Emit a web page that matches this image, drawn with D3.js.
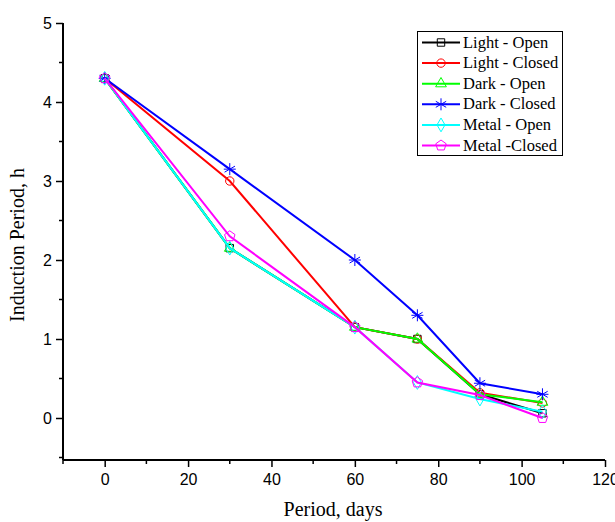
<!DOCTYPE html>
<html lang="en">
<head>
  <meta charset="UTF-8" />
  <title>Induction Period</title>
  <style>
    body { margin: 0; background: #fff; }
    .tick text { font: 16px Arial, "Liberation Sans", sans-serif; fill: #000; }
    .axis path, .axis line { stroke: #000; }
    .title { font: 20px "Times New Roman", "Liberation Serif", serif; fill: #000; }
    .legend text { font: 16.5px "Times New Roman", "Liberation Serif", serif; fill: #000; }
  </style>
  <script src="https://d3js.org/d3.v7.min.js"></script>
</head>
<body>
  <div id="chart"></div>
  <script type="text/javascript">
    const days = [0, 30, 60, 75, 90, 105];
    const lightOpen   = [4.3, 2.15, 1.15, 1.0, 0.3, 0.06];
    const lightClosed = [4.3, 3.0, 1.15, 1.0, 0.32, 0.19];
    const darkOpen    = [4.3, 2.15, 1.15, 1.0, 0.3, 0.2];
    const darkClosed  = [4.3, 3.15, 2.0, 1.3, 0.44, 0.3];
    const metalOpen   = [4.3, 2.15, 1.15, 0.45, 0.24, 0.08];
    const metalClosed = [4.3, 2.3, 1.15, 0.45, 0.29, 0.0];
    const seriesNames = ["Light - Open", "Light - Closed", "Dark - Open", "Dark - Closed", "Metal - Open", "Metal -Closed"];
    const xTicks = [0, 20, 40, 60, 80, 100, 120];
    const yTicks = [0, 1, 2, 3, 4, 5];

    const series = [
      { name: seriesNames[0], values: lightOpen,   color: "#000000", symbol: d3.symbolSquare },
      { name: seriesNames[1], values: lightClosed, color: "#ff0000", symbol: d3.symbolCircle },
      { name: seriesNames[2], values: darkOpen,    color: "#00ff00", symbol: d3.symbolTriangle },
      { name: seriesNames[3], values: darkClosed,  color: "#0000ff", symbol: "star" },
      { name: seriesNames[4], values: metalOpen,   color: "#00ffff", symbol: d3.symbolDiamond },
      { name: seriesNames[5], values: metalClosed, color: "#ff00ff", symbol: "pentagon" }
    ];

    const width = 615, height = 522;
    const plotLeft = 63, plotRight = 605, plotTop = 23, plotBottom = 460;

    const svg = d3.select("#chart").append("svg")
      .attr("width", width)
      .attr("height", height);

    const x = d3.scaleLinear().domain([-10, 120]).range([plotLeft, plotRight]);
    const y = d3.scaleLinear().domain([-0.5, 5]).range([plotBottom - 2.5, plotTop]);

    // minor ticks
    const xMinor = d3.range(-10, 121, 10).filter(v => !xTicks.includes(v));
    const yMinor = d3.range(-0.5, 5.01, 0.5).filter(v => !yTicks.includes(v));

    svg.append("g").selectAll("line").data(xMinor).enter().append("line")
      .attr("x1", d => x(d)).attr("x2", d => x(d))
      .attr("y1", plotBottom).attr("y2", plotBottom + 4)
      .attr("stroke", "#000").attr("stroke-width", 1.5);
    svg.append("g").selectAll("line").data(yMinor).enter().append("line")
      .attr("y1", d => y(d)).attr("y2", d => y(d))
      .attr("x1", plotLeft).attr("x2", plotLeft - 4)
      .attr("stroke", "#000").attr("stroke-width", 1.5);

    const xAxis = svg.append("g")
      .attr("class", "axis")
      .attr("transform", `translate(0,${plotBottom})`)
      .call(d3.axisBottom(x).tickValues(xTicks).tickFormat(d3.format("d"))
        .tickSize(7).tickPadding(7).tickSizeOuter(0));
    xAxis.select(".domain").attr("d", `M${plotLeft},0H${plotRight}`).attr("stroke-width", 2);
    xAxis.selectAll(".tick line").attr("stroke-width", 1.5);

    const yAxis = svg.append("g")
      .attr("class", "axis")
      .attr("transform", `translate(${plotLeft},0)`)
      .call(d3.axisLeft(y).tickValues(yTicks).tickFormat(d3.format("d"))
        .tickSize(7).tickPadding(4).tickSizeOuter(0));
    yAxis.select(".domain").attr("d", `M0,${plotBottom}V${plotTop}`).attr("stroke-width", 2);
    yAxis.selectAll(".tick line").attr("stroke-width", 1.5);

    svg.append("text").attr("class", "title")
      .attr("x", 333).attr("y", 516)
      .attr("text-anchor", "middle")
      .text("Period, days");
    svg.append("text").attr("class", "title")
      .attr("transform", "translate(24,245) rotate(-90)")
      .attr("text-anchor", "middle")
      .text("Induction Period, h");

    function drawMarker(g, s, cx, cy) {
      if (s.symbol === "star") {
        const r = 6;
        [0, 60, 120].forEach(a => {
          const rad = a * Math.PI / 180;
          g.append("line")
            .attr("x1", cx - r * Math.sin(rad)).attr("y1", cy - r * Math.cos(rad))
            .attr("x2", cx + r * Math.sin(rad)).attr("y2", cy + r * Math.cos(rad))
            .attr("stroke", s.color).attr("stroke-width", 1);
        });
        g.append("line")
          .attr("x1", cx - r).attr("x2", cx + r).attr("y1", cy).attr("y2", cy)
          .attr("stroke", s.color).attr("stroke-width", 1);
      } else if (s.symbol === "pentagon") {
        const r = 5.5;
        const pts = d3.range(5).map(i => {
          const a = -Math.PI / 2 + i * 2 * Math.PI / 5;
          return [cx + r * Math.cos(a), cy + r * Math.sin(a)];
        });
        g.append("polygon").attr("points", pts.map(p => p.join(",")).join(" "))
          .attr("fill", "none").attr("stroke", s.color).attr("stroke-width", 1);
      } else {
        g.append("path")
          .attr("d", d3.symbol().type(s.symbol).size(s.symbol === d3.symbolTriangle ? 50 : 55)())
          .attr("transform", `translate(${cx},${cy})`)
          .attr("fill", "none").attr("stroke", s.color).attr("stroke-width", 1);
      }
    }

    const line = d3.line().x(d => x(d[0])).y(d => y(d[1]));

    series.forEach(s => {
      const pts = days.map((d, i) => [d, s.values[i]]);
      const g = svg.append("g");
      g.append("path")
        .attr("d", line(pts))
        .attr("fill", "none")
        .attr("stroke", s.color)
        .attr("stroke-width", 2);
      pts.forEach(p => drawMarker(g, s, x(p[0]), y(p[1])));
    });

    // legend
    const legend = svg.append("g").attr("class", "legend");
    legend.append("rect")
      .attr("x", 417.5).attr("y", 31.5)
      .attr("width", 145).attr("height", 124)
      .attr("fill", "#fff").attr("stroke", "#000").attr("stroke-width", 1);
    series.forEach((s, i) => {
      const cy = 42.5 + i * 20.6;
      const g = legend.append("g");
      g.append("line")
        .attr("x1", 422).attr("x2", 460).attr("y1", cy).attr("y2", cy)
        .attr("stroke", s.color).attr("stroke-width", 2);
      drawMarker(g, s, 441, cy);
      g.append("text").attr("x", 463).attr("y", cy + 5).text(s.name);
    });
  </script>
</body>
</html>
